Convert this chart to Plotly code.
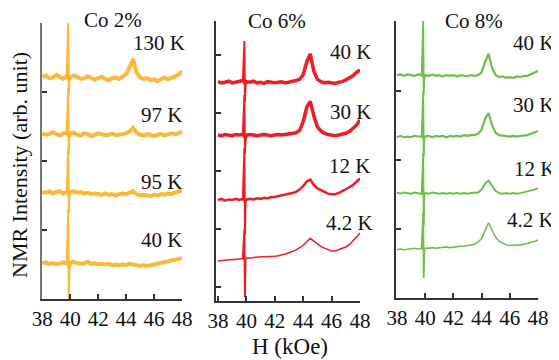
import plotly.graph_objects as go

# ---------------- data ----------------
H = [38.0, 38.25, 38.5, 38.75, 39.0, 39.25, 39.5, 39.75, 39.86, 39.9, 39.94,
     40.0, 40.25, 40.5, 40.75, 41.0, 41.25, 41.5, 41.75, 42.0, 42.25, 42.5,
     42.75, 43.0, 43.25, 43.5, 43.75, 44.0, 44.25, 44.5, 44.75, 45.0, 45.25,
     45.5, 45.75, 46.0, 46.25, 46.5, 46.75, 47.0, 47.25, 47.5, 47.75, 48.0]

panel_titles = ["Co 2%", "Co 6%", "Co 8%"]
temp_labels = [["130 K", "97 K", "95 K", "40 K"],
               ["40 K", "30 K", "12 K", "4.2 K"],
               ["40 K", "30 K", "12 K", "4.2 K"]]
x_ticks = [38, 40, 42, 44, 46, 48]
x_tick_text = ["38", "40", "42", "44", "46", "48"]
y_ticks = [0, 1, 2, 3, 4]

co2_130K = [3.22, 3.24, 3.20, 3.21, 3.25, 3.22, 3.19, 3.23, 4.00, 2.95, 3.18,
            3.21, 3.24, 3.22, 3.19, 3.20, 3.23, 3.21, 3.18, 3.20, 3.22, 3.19,
            3.17, 3.20, 3.21, 3.19, 3.22, 3.26, 3.36, 3.48, 3.28, 3.21, 3.19,
            3.20, 3.17, 3.18, 3.16, 3.19, 3.21, 3.18, 3.20, 3.22, 3.25, 3.30]
co2_97K = [2.40, 2.38, 2.39, 2.42, 2.39, 2.37, 2.40, 2.41, 3.05, 2.10, 2.36,
           2.40, 2.41, 2.38, 2.37, 2.40, 2.39, 2.36, 2.38, 2.40, 2.39, 2.37,
           2.38, 2.40, 2.37, 2.38, 2.39, 2.40, 2.43, 2.48, 2.41, 2.38, 2.37,
           2.39, 2.38, 2.36, 2.38, 2.39, 2.37, 2.38, 2.40, 2.39, 2.40, 2.43]
co2_95K = [1.55, 1.54, 1.56, 1.53, 1.55, 1.56, 1.53, 1.55, 2.20, 1.25, 1.52,
           1.55, 1.56, 1.54, 1.55, 1.53, 1.54, 1.52, 1.53, 1.52, 1.51, 1.53,
           1.51, 1.52, 1.50, 1.52, 1.53, 1.52, 1.54, 1.56, 1.52, 1.50, 1.51,
           1.50, 1.49, 1.51, 1.50, 1.52, 1.51, 1.53, 1.52, 1.54, 1.55, 1.57]
co2_40K = [0.52, 0.53, 0.51, 0.52, 0.50, 0.52, 0.53, 0.52, 1.30, 0.00, 0.48,
           0.52, 0.54, 0.52, 0.51, 0.52, 0.54, 0.51, 0.52, 0.50, 0.51, 0.50,
           0.51, 0.49, 0.50, 0.49, 0.50, 0.49, 0.51, 0.50, 0.49, 0.48, 0.49,
           0.48, 0.49, 0.50, 0.51, 0.52, 0.53, 0.54, 0.55, 0.56, 0.57, 0.59]

co6_40K = [3.54, 3.52, 3.53, 3.55, 3.52, 3.53, 3.55, 3.56, 4.24, 3.20, 3.50,
           3.54, 3.53, 3.55, 3.52, 3.53, 3.51, 3.54, 3.53, 3.52, 3.53, 3.54,
           3.52, 3.53, 3.54, 3.56, 3.58, 3.66, 3.88, 4.02, 3.72, 3.58, 3.54,
           3.52, 3.53, 3.52, 3.51, 3.53, 3.54, 3.57, 3.60, 3.64, 3.70, 3.74]
co6_30K = [2.62, 2.61, 2.63, 2.62, 2.61, 2.63, 2.62, 2.63, 3.31, 2.30, 2.58,
           2.62, 2.63, 2.62, 2.61, 2.62, 2.63, 2.62, 2.61, 2.62, 2.63, 2.62,
           2.63, 2.64, 2.65, 2.66, 2.70, 2.85, 3.10, 3.20, 2.95, 2.76, 2.69,
           2.65, 2.63, 2.62, 2.61, 2.62, 2.63, 2.65, 2.68, 2.73, 2.79, 2.88]
co6_12K = [1.50, 1.52, 1.49, 1.51, 1.50, 1.52, 1.50, 1.52, 2.40, 0.90, 1.48,
           1.51, 1.52, 1.51, 1.53, 1.52, 1.54, 1.53, 1.55, 1.55, 1.57, 1.58,
           1.59, 1.61, 1.62, 1.64, 1.68, 1.74, 1.82, 1.85, 1.76, 1.70, 1.67,
           1.64, 1.61, 1.60, 1.60, 1.62, 1.65, 1.69, 1.72, 1.76, 1.81, 1.87]
co6_4K = [0.45, 0.46, 0.46, 0.47, 0.47, 0.48, 0.48, 0.49, 1.00, -0.17, 0.47,
          0.50, 0.50, 0.51, 0.51, 0.52, 0.52, 0.52, 0.53, 0.53, 0.54, 0.55,
          0.57, 0.59, 0.61, 0.64, 0.68, 0.72, 0.78, 0.84, 0.79, 0.74, 0.70,
          0.67, 0.64, 0.62, 0.62, 0.64, 0.66, 0.69, 0.73, 0.79, 0.86, 0.93]

co8_40K = [3.23, 3.24, 3.22, 3.24, 3.23, 3.22, 3.24, 3.23, 4.03, 2.95, 3.20,
           3.23, 3.22, 3.24, 3.22, 3.23, 3.21, 3.23, 3.22, 3.23, 3.21, 3.23,
           3.22, 3.21, 3.23, 3.22, 3.23, 3.27, 3.42, 3.54, 3.33, 3.23, 3.20,
           3.21, 3.19, 3.20, 3.19, 3.21, 3.20, 3.22, 3.22, 3.24, 3.26, 3.29]
co8_30K = [2.33, 2.35, 2.33, 2.34, 2.33, 2.35, 2.34, 2.34, 3.00, 2.05, 2.31,
           2.34, 2.35, 2.33, 2.35, 2.34, 2.35, 2.33, 2.35, 2.34, 2.35, 2.34,
           2.36, 2.35, 2.36, 2.36, 2.38, 2.44, 2.60, 2.68, 2.50, 2.39, 2.36,
           2.35, 2.34, 2.34, 2.35, 2.34, 2.35, 2.35, 2.36, 2.38, 2.40, 2.42]
co8_12K = [1.53, 1.51, 1.53, 1.52, 1.51, 1.53, 1.52, 1.51, 2.10, 1.05, 1.50,
           1.52, 1.51, 1.53, 1.52, 1.51, 1.52, 1.51, 1.52, 1.51, 1.52, 1.51,
           1.52, 1.51, 1.52, 1.52, 1.53, 1.57, 1.66, 1.70, 1.62, 1.55, 1.52,
           1.51, 1.52, 1.51, 1.52, 1.51, 1.52, 1.53, 1.54, 1.55, 1.57, 1.59]
co8_4K = [0.70, 0.71, 0.70, 0.71, 0.71, 0.72, 0.71, 0.72, 1.25, 0.29, 0.70,
          0.72, 0.72, 0.73, 0.72, 0.73, 0.73, 0.74, 0.73, 0.74, 0.74, 0.75,
          0.75, 0.76, 0.77, 0.78, 0.81, 0.86, 0.98, 1.09, 0.98, 0.88, 0.82,
          0.79, 0.77, 0.76, 0.76, 0.76, 0.77, 0.78, 0.79, 0.80, 0.82, 0.84]

series = [[co2_130K, co2_97K, co2_95K, co2_40K],
          [co6_40K, co6_30K, co6_12K, co6_4K],
          [co8_40K, co8_30K, co8_12K, co8_4K]]

# ---------------- style / layout ----------------
OFF = 8                      # page body margin compensation
W, Hpx = 559 - OFF, 360 - OFF
FONT = "Liberation Serif, Times New Roman, serif"
colors = ["#FCB838", "#EE1D24", "#6CBF48"]
widths = [[4.0, 4.0, 4.0, 4.0], [3.5, 3.5, 2.5, 1.5], [2.2, 2.2, 2.0, 1.6]]
spike_widths = [2.0, 2.0, 1.8]
SPIKE = slice(7, 11)          # points of the glitch near 39.9 kOe
MAIN = list(range(0, 8)) + list(range(10, len(H)))

boxes = [(42, 182, 23, 299), (216, 360, 21, 301), (396, 538, 21, 298)]
xranges = [[37.98, 48.0], [37.86, 48.0], [37.93, 48.0]]
yranges = [[0, 4.0], [-0.241, 4.586], [0, 4.014]]
yline_colors = ["#777777", "#333333", "#333333"]

label_pos = [[(187, 43), (184, 115), (184, 182), (184, 240)],
             [(373, 52), (373, 112), (372, 166), (375, 223)],
             [(556, 43), (556, 105), (557, 169), (556, 220)]]
title_pos = [(113, 20), (277, 21), (474, 21)]


def fx(px):
    return (px - OFF) / W


def fy(py):
    return 1 - (py - OFF) / Hpx


fig = go.Figure()
layout = dict(width=W, height=Hpx,
              margin=dict(l=0, r=0, t=0, b=0, pad=0, autoexpand=False),
              template="none",
              paper_bgcolor="white", plot_bgcolor="white", showlegend=False,
              font=dict(family=FONT, size=21, color="#111111"))
annotations = []

for p in range(3):
    sfx = "" if p == 0 else str(p + 1)
    xa, ya = "x" + sfx, "y" + sfx
    for k, ys in enumerate(series[p]):
        fig.add_trace(go.Scatter(x=[H[i] for i in MAIN], y=[ys[i] for i in MAIN],
                                 mode="lines", xaxis=xa, yaxis=ya,
                                 line=dict(color=colors[p], width=widths[p][k]),
                                 hoverinfo="skip"))
        fig.add_trace(go.Scatter(x=H[SPIKE], y=ys[SPIKE], mode="lines",
                                 xaxis=xa, yaxis=ya,
                                 line=dict(color=colors[p], width=spike_widths[p]),
                                 hoverinfo="skip"))
    l, r, t, b = boxes[p]
    layout["xaxis" + sfx] = dict(
        domain=[fx(l), fx(r)], range=xranges[p], anchor=ya, automargin=False,
        tickvals=x_ticks, ticktext=x_tick_text, ticks="inside", ticklen=5,
        tickwidth=1.5, tickcolor="#333333", showline=True, linecolor="#333333",
        linewidth=1.5, showgrid=False, zeroline=False,
        tickfont=dict(family=FONT, size=21, color="#111111"))
    layout["yaxis" + sfx] = dict(
        domain=[fy(b), fy(t)], range=yranges[p], anchor=xa, automargin=False,
        tickvals=y_ticks, showticklabels=False, ticks="inside", ticklen=5,
        tickwidth=1.5, tickcolor="#333333", showline=True,
        linecolor=yline_colors[p], linewidth=1.5, showgrid=False, zeroline=False)
    for k, txt in enumerate(temp_labels[p]):
        px, py = label_pos[p][k]
        annotations.append(dict(text=txt, x=fx(px), y=fy(py), xref="paper",
                                yref="paper", xanchor="right", yanchor="middle",
                                showarrow=False,
                                font=dict(family=FONT, size=21, color="#111111")))
    tx, ty = title_pos[p]
    annotations.append(dict(text=panel_titles[p], x=fx(tx), y=fy(ty),
                            xref="paper", yref="paper", xanchor="center",
                            yanchor="middle", showarrow=False,
                            font=dict(family=FONT, size=21, color="#111111")))

annotations.append(dict(text="NMR Intensity (arb. unit)", x=fx(19), y=fy(165),
                        xref="paper", yref="paper", textangle=-90,
                        xanchor="center", yanchor="middle", showarrow=False,
                        font=dict(family=FONT, size=22, color="#111111")))
annotations.append(dict(text="H (kOe)", x=fx(290), y=fy(346),
                        xref="paper", yref="paper", xanchor="center",
                        yanchor="middle", showarrow=False,
                        font=dict(family=FONT, size=23, color="#111111")))
layout["annotations"] = annotations
fig.update_layout(**layout)
fig.write_html("out.html")
